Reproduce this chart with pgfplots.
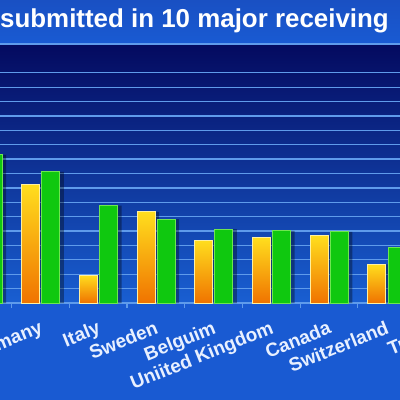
\documentclass[border=0pt]{standalone}
\usepackage{pgfplots}
\pgfplotsset{compat=1.18}
\usepackage{fontspec}
\setmainfont{Liberation Sans}

\definecolor{slide}{RGB}{25,90,210}
\definecolor{titleblue}{RGB}{25,80,195}
\definecolor{navytop}{RGB}{4,10,95}
\definecolor{navymid}{RGB}{12,50,160}
\definecolor{navylow}{RGB}{25,95,210}
\definecolor{gridblue}{RGB}{95,155,235}
\definecolor{labelwhite}{RGB}{232,240,255}
\definecolor{barYellow}{RGB}{255,222,30}
\definecolor{barOrange}{RGB}{240,115,0}
\definecolor{yellowedge}{RGB}{255,240,160}
\definecolor{barGreen}{RGB}{15,200,15}
\definecolor{greenedge}{RGB}{110,230,80}

\pgfplotsset{
  orangebar/.style={ybar, bar width=18pt, bar shift=-9.8pt, draw=yellowedge, line width=1pt,
    top color=barYellow, bottom color=barOrange},
}

\begin{document}
\begin{tikzpicture}[x=1pt,y=1pt]
\useasboundingbox (0,0) rectangle (400,400);
\clip (0,0) rectangle (400,400);
\fill[slide] (0,0) rectangle (400,358);
\fill[top color=titleblue, bottom color=slide] (0,358) rectangle (400,400);
\node[anchor=base west, inner sep=0pt, text=white,
      font=\bfseries\fontsize{25.9}{26}\selectfont] at (0,372) {submitted in 10 major receiving};

\begin{axis}[
    at={(-46pt,97pt)}, anchor=south west,
    scale only axis, width=519.3pt, height=259pt,
    xmin=-0.5, xmax=8.5,
    ymin=0, ymax=18,
    axis background/.style={top color=navytop, middle color=navymid, bottom color=navylow},
    axis line style={gridblue, line width=1.5pt},
    ytick={1,...,16}, yticklabels={},
    ymajorgrids=true,
    grid style={gridblue, line width=1.3pt},
    xtick={0,...,8},
    xticklabels={,Germany,Italy,Sweden,Belguim,Uniited Kingdom,Canada,Switzerland,Turkey},
    minor xtick={0.5,1.5,...,7.5},
    xtick pos=bottom,
    tick align=outside,
    major tick length=0pt,
    minor tick length=5pt,
    minor tick style={gridblue, line width=1.2pt},
    xticklabel style={rotate=22, anchor=north east, inner sep=0pt, xshift=-8pt, yshift=-15pt,
        text=labelwhite, font=\bfseries\fontsize{19}{19}\selectfont},
]
% shadows
\addplot[ybar, bar width=18pt, bar shift=-5.8pt, fill=black, fill opacity=0.35, draw=none]
    coordinates {(1,8.26)(2,1.94)(3,6.34)(4,4.37)(5,4.56)(6,4.68)(7,2.69)};
\addplot[ybar, bar width=18pt, bar shift=14.3pt, fill=black, fill opacity=0.35, draw=none]
    coordinates {(0,10.3)(1,9.12)(2,6.76)(3,5.83)(4,5.14)(5,5.02)(6,4.95)(7,3.87)};
% orange bars, one plot each so every bar gets its own gradient
\addplot[orangebar] coordinates {(1,8.26)};
\addplot[orangebar] coordinates {(2,1.94)};
\addplot[orangebar] coordinates {(3,6.34)};
\addplot[orangebar] coordinates {(4,4.37)};
\addplot[orangebar] coordinates {(5,4.56)};
\addplot[orangebar] coordinates {(6,4.68)};
\addplot[orangebar] coordinates {(7,2.69)};
% green bars
\addplot[ybar, bar width=18pt, bar shift=10.3pt, draw=greenedge, line width=1pt, fill=barGreen]
    coordinates {(0,10.3)(1,9.12)(2,6.76)(3,5.83)(4,5.14)(5,5.02)(6,4.95)(7,3.87)};
\end{axis}
\end{tikzpicture}
\end{document}
